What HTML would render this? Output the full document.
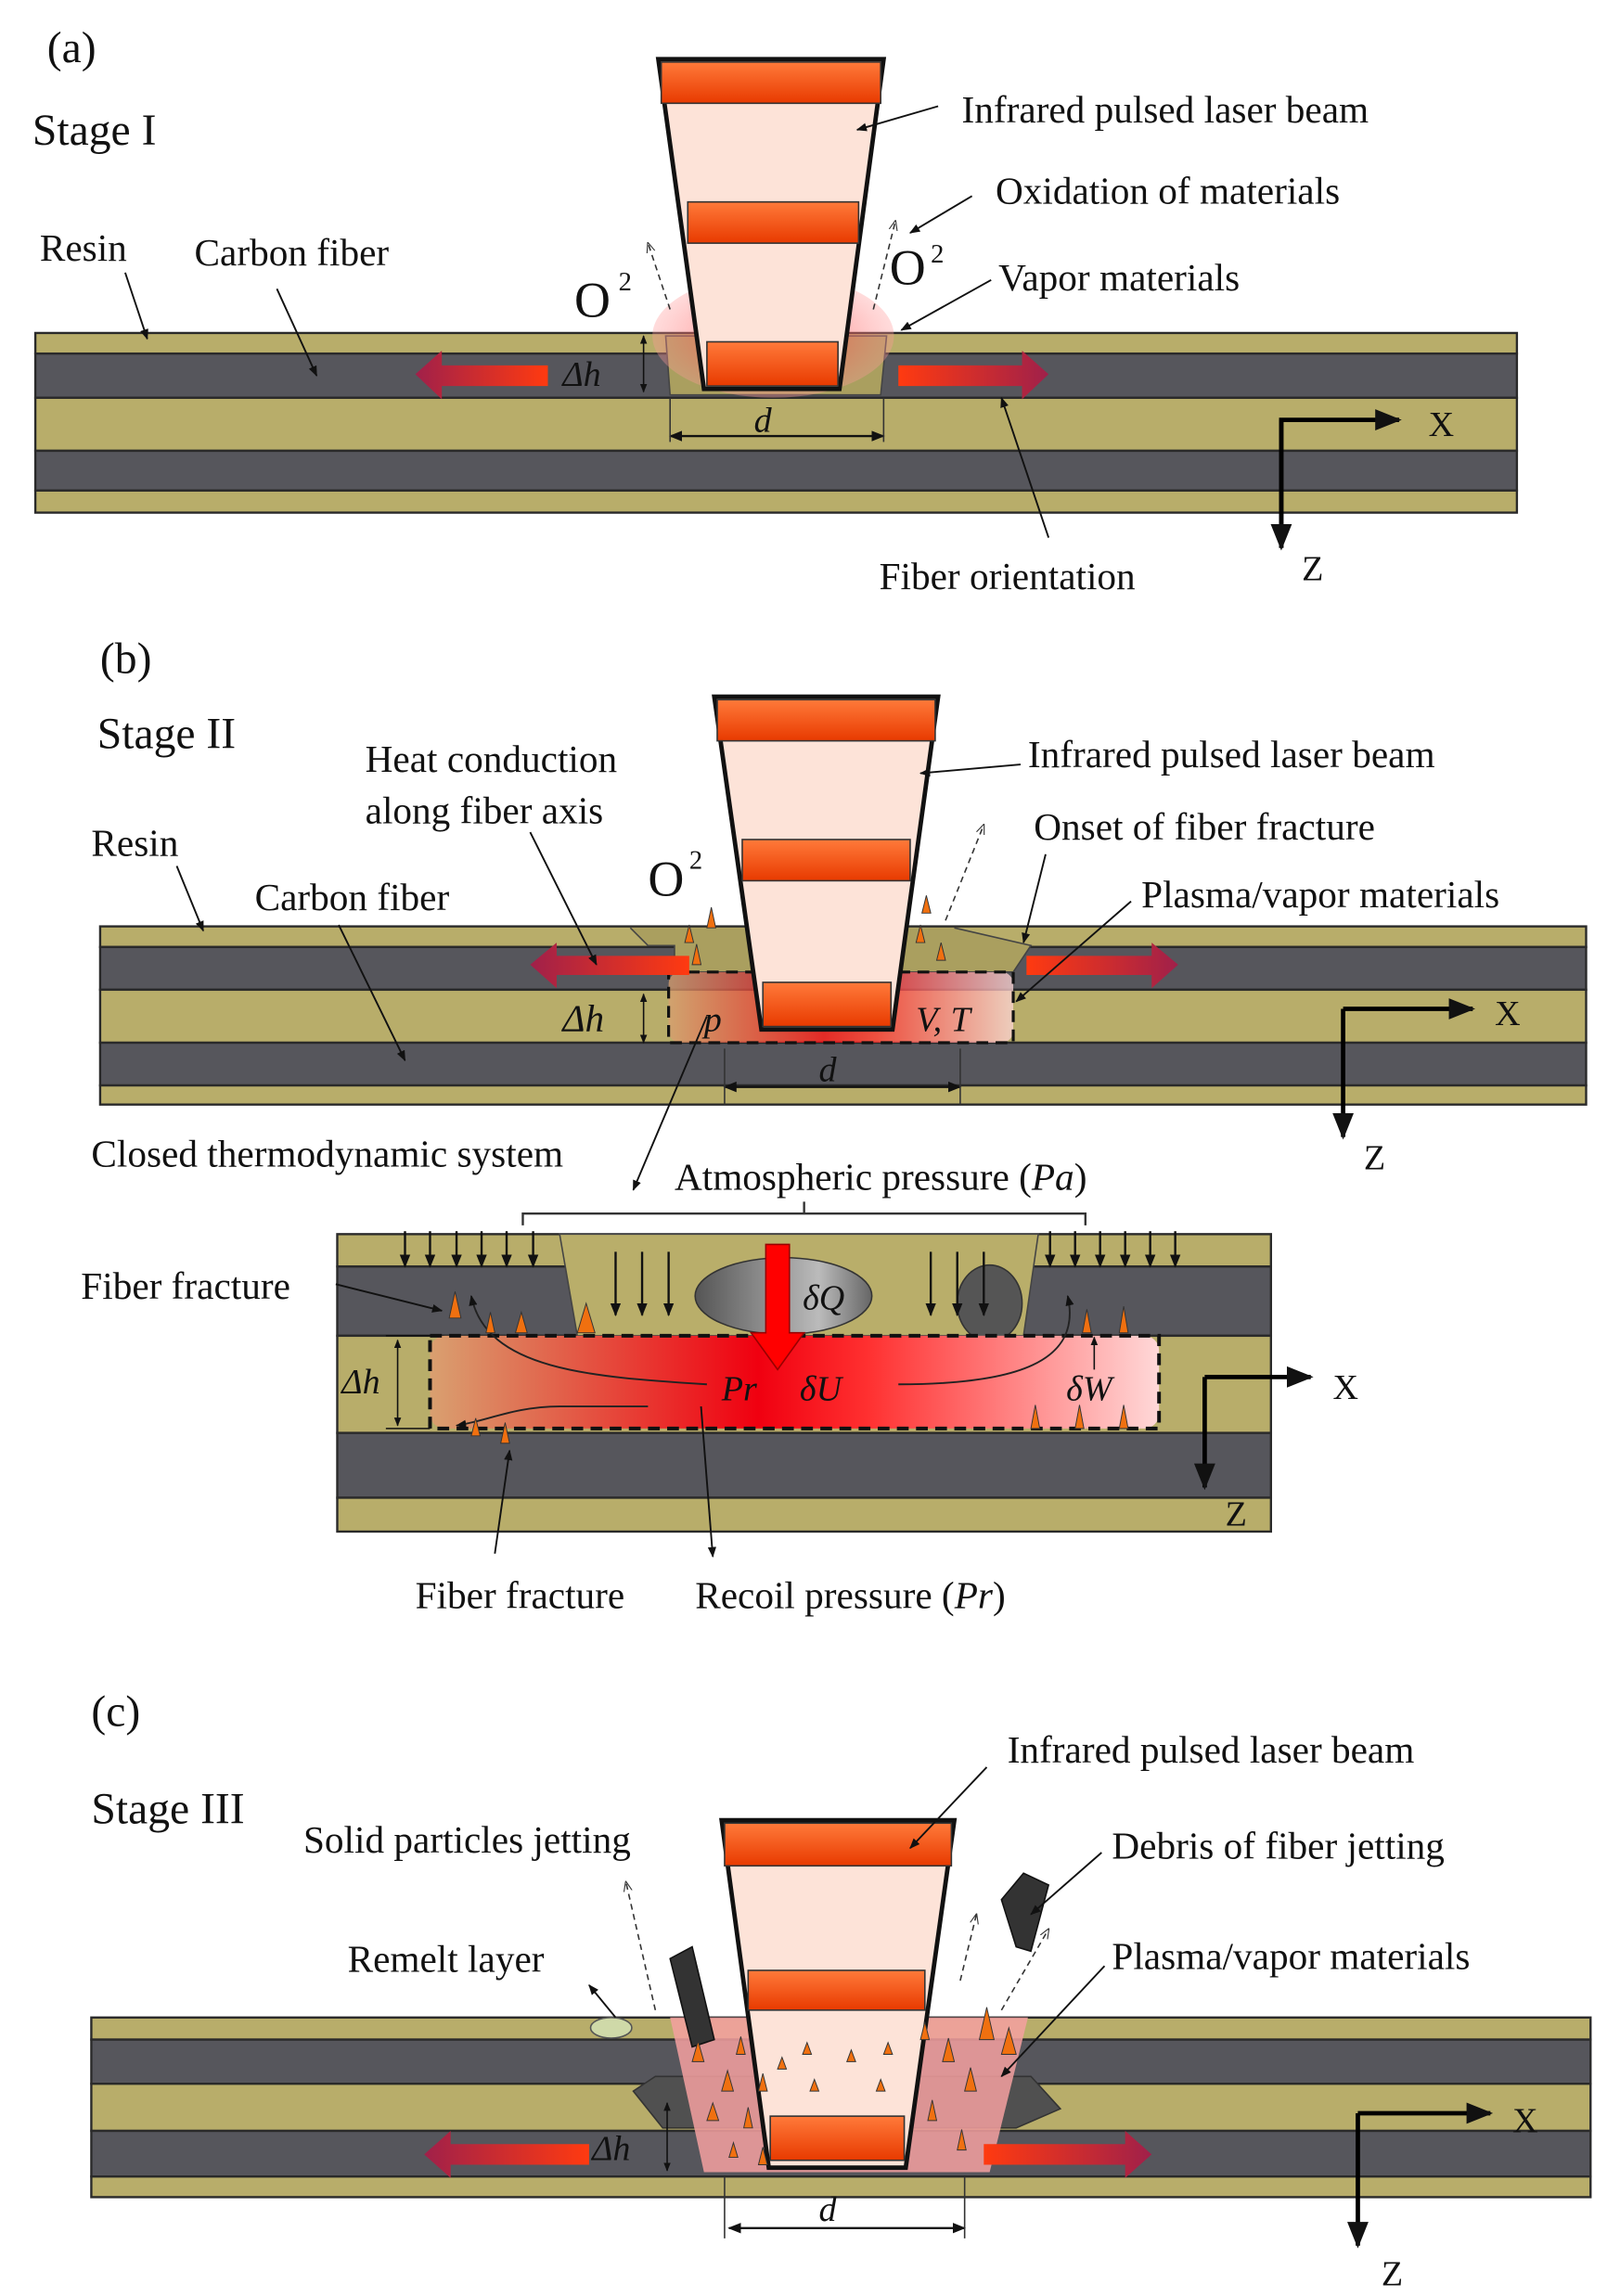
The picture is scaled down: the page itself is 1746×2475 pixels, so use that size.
<!DOCTYPE html>
<html><head><meta charset="utf-8"><style>html,body{margin:0;padding:0;background:#fff}svg{display:block}text{font-family:"Liberation Serif",serif;fill:#111}</style></head>
<body>
<svg width="1746" height="2475" viewBox="0 0 1100 1559" xmlns="http://www.w3.org/2000/svg">
<defs>
<marker id="ah" viewBox="0 0 10 10" refX="9" refY="5" markerWidth="6" markerHeight="6" orient="auto-start-reverse"><path d="M0,1 L10,5 L0,9 z" fill="#111"/></marker>
<marker id="ahd" viewBox="0 0 10 10" refX="9" refY="5" markerWidth="7" markerHeight="7" orient="auto"><path d="M0,1 L10,5 L0,9" fill="none" stroke="#333"/></marker>
<linearGradient id="arrL" x1="0" x2="1"><stop offset="0" stop-color="#a0204a"/><stop offset="1" stop-color="#ff3a10"/></linearGradient>
<linearGradient id="arrR" x1="0" x2="1"><stop offset="0" stop-color="#ff3a10"/><stop offset="1" stop-color="#a0204a"/></linearGradient>
<linearGradient id="band" x1="0" y1="0" x2="0" y2="1"><stop offset="0" stop-color="#ff7a3a"/><stop offset="1" stop-color="#e83a00"/></linearGradient>
<linearGradient id="hot" x1="0" x2="1"><stop offset="0" stop-color="#d9a070"/><stop offset="0.45" stop-color="#f00010"/><stop offset="0.6" stop-color="#ff3030"/><stop offset="1" stop-color="#ffd8d8"/></linearGradient>
<radialGradient id="glow"><stop offset="0" stop-color="#ff2020" stop-opacity=".9"/><stop offset="1" stop-color="#ff9a9a" stop-opacity=".5"/></radialGradient>
<linearGradient id="q" x1="0" x2="1"><stop offset="0" stop-color="#555"/><stop offset=".7" stop-color="#bbb"/><stop offset="1" stop-color="#666"/></linearGradient>
</defs>
<g id="lay" stroke="#333" stroke-width="1.5">
</g>
<!-- Panel a -->
<g stroke="#2a2a2a" stroke-width="1.5">
<rect x="24" y="226" width="1006" height="14" fill="#b8ad6a"/>
<rect x="24" y="240" width="1006" height="30" fill="#56565c"/>
<rect x="24" y="270" width="1006" height="36" fill="#b8ad6a"/>
<rect x="24" y="306" width="1006" height="27" fill="#56565c"/>
<rect x="24" y="333" width="1006" height="15" fill="#b8ad6a"/>
</g>
<path d="M452,228 L455,268 L598,268 L602,228 Z" fill="#aa9f5f" stroke="#444"/>
<ellipse cx="525" cy="228" rx="82" ry="42" fill="url(#glow)" opacity=".7"/>
<polygon points="282,254 300,238 300,248 372,248 372,262 300,262 300,271" fill="url(#arrL)"/>
<polygon points="712,254 694,238 694,248 610,248 610,262 694,262 694,271" fill="url(#arrR)"/>
<polygon points="447,40 600,40 570,264 478,264" fill="#fde3d8" stroke="#111" stroke-width="3"/>
<rect x="449" y="42" width="149" height="28" fill="url(#band)" stroke="#333"/>
<rect x="467" y="137" width="116" height="28" fill="url(#band)" stroke="#333"/>
<rect x="480" y="232" width="89" height="30" fill="url(#band)" stroke="#333"/>
<line x1="437" y1="228" x2="437" y2="266" stroke="#111" marker-start="url(#ah)" marker-end="url(#ah)"/>
<line x1="455" y1="296" x2="600" y2="296" stroke="#111" stroke-width="1.5" marker-start="url(#ah)" marker-end="url(#ah)"/>
<line x1="455" y1="270" x2="455" y2="300" stroke="#333"/><line x1="600" y1="270" x2="600" y2="300" stroke="#333"/>
<text x="512" y="293" font-size="24" font-style="italic">d</text>
<text x="382" y="262" font-size="24" font-style="italic">Δh</text>
<line x1="455" y1="210" x2="440" y2="165" stroke="#333" stroke-dasharray="4 3" marker-end="url(#ahd)"/>
<line x1="593" y1="210" x2="608" y2="150" stroke="#333" stroke-dasharray="4 3" marker-end="url(#ahd)"/>
<text x="390" y="215" font-size="34">O</text><text x="420" y="197" font-size="18">2</text>
<text x="604" y="193" font-size="34">O</text><text x="632" y="178" font-size="18">2</text>
<text x="32" y="42" font-size="30">(a)</text>
<text x="22" y="98" font-size="30">Stage I</text>
<text x="27" y="177" font-size="26">Resin</text>
<text x="132" y="180" font-size="26">Carbon fiber</text>
<text x="653" y="83" font-size="26">Infrared pulsed laser  beam</text>
<text x="676" y="138" font-size="26">Oxidation of materials</text>
<text x="678" y="197" font-size="26">Vapor materials</text>
<text x="597" y="400" font-size="26">Fiber orientation</text>
<g stroke="#111" stroke-width="1.2" fill="none">
<line x1="85" y1="185" x2="100" y2="230" marker-end="url(#ah)"/>
<line x1="188" y1="196" x2="215" y2="255" marker-end="url(#ah)"/>
<line x1="637" y1="72" x2="582" y2="88" marker-end="url(#ah)"/>
<line x1="660" y1="133" x2="618" y2="158" marker-end="url(#ah)"/>
<line x1="673" y1="190" x2="612" y2="224" marker-end="url(#ah)"/>
<line x1="712" y1="365" x2="680" y2="270" marker-end="url(#ah)"/>
</g>
<g stroke="#000" stroke-width="3" fill="none">
<path d="M870,372 L870,285 L950,285" marker-end="url(#ah)"/>
<line x1="870" y1="285" x2="870" y2="372" marker-end="url(#ah)"/>
</g>
<text x="970" y="296" font-size="24">X</text><text x="884" y="394" font-size="24">Z</text>

<!-- Panel b -->
<g stroke="#2a2a2a" stroke-width="1.5">
<rect x="68" y="629" width="1009" height="14" fill="#b8ad6a"/>
<rect x="68" y="643" width="1009" height="29" fill="#56565c"/>
<rect x="68" y="672" width="1009" height="36" fill="#b8ad6a"/>
<rect x="68" y="708" width="1009" height="29" fill="#56565c"/>
<rect x="68" y="737" width="1009" height="13" fill="#b8ad6a"/>
</g>
<path d="M428,630 L440,642 L458,642 L458,660 L688,660 L700,642 L648,630" fill="#aa9f5f" stroke="#444"/>
<rect x="454" y="660" width="234" height="48" rx="8" fill="url(#hot)" opacity=".75"/>
<rect x="454" y="660" width="234" height="48" fill="none" stroke="#111" stroke-width="2" stroke-dasharray="8 5"/>
<polygon points="360,655 378,640 378,649 468,649 468,662 378,662 378,671" fill="url(#arrL)"/>
<polygon points="800,655 782,640 782,649 697,649 697,662 782,662 782,671" fill="url(#arrR)"/>
<polygon points="485,473 637,473 606,699 517,699" fill="#fde3d8" stroke="#111" stroke-width="3"/>
<rect x="487" y="475" width="148" height="28" fill="url(#band)" stroke="#333"/>
<rect x="504" y="570" width="114" height="28" fill="url(#band)" stroke="#333"/>
<rect x="518" y="667" width="87" height="30" fill="url(#band)" stroke="#333"/>
<g fill="#f07010" stroke="#333" stroke-width=".6">
<path d="M465,640 l3,-12 l3,12z"/><path d="M480,630 l3,-14 l3,14z"/><path d="M470,655 l3,-14 l3,14z"/><path d="M622,640 l3,-12 l3,12z"/><path d="M636,652 l3,-12 l3,12z"/><path d="M626,620 l3,-12 l3,12z"/>
</g>
<line x1="437" y1="675" x2="437" y2="708" stroke="#111" marker-start="url(#ah)" marker-end="url(#ah)"/>
<text x="382" y="700" font-size="26" font-style="italic">Δh</text>
<text x="478" y="700" font-size="24" font-style="italic">p</text>
<text x="622" y="700" font-size="24" font-style="italic">V, T</text>
<line x1="492" y1="738" x2="652" y2="738" stroke="#111" stroke-width="1.5" marker-start="url(#ah)" marker-end="url(#ah)"/>
<line x1="492" y1="712" x2="492" y2="750" stroke="#333"/><line x1="652" y1="712" x2="652" y2="750" stroke="#333"/>
<text x="556" y="734" font-size="24" font-style="italic">d</text>
<line x1="642" y1="625" x2="668" y2="560" stroke="#333" stroke-dasharray="4 3" marker-end="url(#ahd)"/>
<text x="440" y="608" font-size="34">O</text><text x="468" y="590" font-size="18">2</text>
<text x="68" y="457" font-size="30">(b)</text>
<text x="66" y="508" font-size="30">Stage II</text>
<text x="248" y="524" font-size="26">Heat  conduction</text>
<text x="248" y="559" font-size="26">along fiber axis</text>
<text x="62" y="581" font-size="26">Resin</text>
<text x="173" y="618" font-size="26">Carbon fiber</text>
<text x="698" y="521" font-size="26">Infrared pulsed laser  beam</text>
<text x="702" y="570" font-size="26">Onset of fiber fracture</text>
<text x="775" y="616" font-size="26">Plasma/vapor materials</text>
<text x="62" y="792" font-size="26">Closed thermodynamic system</text>
<text x="458" y="808" font-size="26">Atmospheric pressure (<tspan font-style="italic">Pa</tspan>)</text>
<g stroke="#111" stroke-width="1.2" fill="none">
<line x1="120" y1="588" x2="138" y2="632" marker-end="url(#ah)"/>
<line x1="230" y1="628" x2="275" y2="720" marker-end="url(#ah)"/>
<line x1="360" y1="565" x2="405" y2="655" marker-end="url(#ah)"/>
<line x1="693" y1="519" x2="625" y2="525" marker-end="url(#ah)"/>
<line x1="710" y1="580" x2="695" y2="640" marker-end="url(#ah)"/>
<line x1="768" y1="612" x2="690" y2="680" marker-end="url(#ah)"/>
<line x1="480" y1="690" x2="430" y2="808" marker-end="url(#ah)"/>
</g>
<g stroke="#000" stroke-width="3" fill="none">
<path d="M912,685 L1000,685" marker-end="url(#ah)"/>
<line x1="912" y1="685" x2="912" y2="772" marker-end="url(#ah)"/>
</g>
<text x="1015" y="696" font-size="24">X</text><text x="926" y="794" font-size="24">Z</text>

<!-- Inset -->
<g stroke="#2a2a2a" stroke-width="1.5">
<rect x="229" y="838" width="634" height="22" fill="#b8ad6a"/>
<rect x="229" y="860" width="634" height="47" fill="#56565c"/>
<rect x="229" y="907" width="634" height="66" fill="#b8ad6a"/>
<rect x="229" y="973" width="634" height="44" fill="#56565c"/>
<rect x="229" y="1017" width="634" height="23" fill="#b8ad6a"/>
</g>
<polygon points="380,838 705,838 695,907 392,907" fill="#b9ae6a" stroke="#444"/>
<ellipse cx="532" cy="880" rx="60" ry="26" fill="url(#q)" stroke="#333"/>
<ellipse cx="672" cy="885" rx="22" ry="26" fill="#555" stroke="#333"/>
<rect x="292" y="907" width="495" height="63" rx="10" fill="url(#hot)"/>
<rect x="292" y="907" width="495" height="63" fill="none" stroke="#111" stroke-width="2.5" stroke-dasharray="8 5"/>
<line x1="262" y1="907" x2="292" y2="907" stroke="#111"/><line x1="262" y1="970" x2="292" y2="970" stroke="#111"/>
<line x1="270" y1="910" x2="270" y2="968" stroke="#111" marker-start="url(#ah)" marker-end="url(#ah)"/>
<text x="232" y="946" font-size="24" font-style="italic">Δh</text>
<g stroke="#111" stroke-width="1.5">
<line x1="275" y1="836" x2="275" y2="860" marker-end="url(#ah)"/><line x1="292" y1="836" x2="292" y2="860" marker-end="url(#ah)"/><line x1="310" y1="836" x2="310" y2="860" marker-end="url(#ah)"/><line x1="327" y1="836" x2="327" y2="860" marker-end="url(#ah)"/><line x1="344" y1="836" x2="344" y2="860" marker-end="url(#ah)"/><line x1="362" y1="836" x2="362" y2="860" marker-end="url(#ah)"/>
<line x1="713" y1="836" x2="713" y2="860" marker-end="url(#ah)"/><line x1="730" y1="836" x2="730" y2="860" marker-end="url(#ah)"/><line x1="747" y1="836" x2="747" y2="860" marker-end="url(#ah)"/><line x1="764" y1="836" x2="764" y2="860" marker-end="url(#ah)"/><line x1="781" y1="836" x2="781" y2="860" marker-end="url(#ah)"/><line x1="798" y1="836" x2="798" y2="860" marker-end="url(#ah)"/>
<line x1="418" y1="850" x2="418" y2="893" marker-end="url(#ah)"/><line x1="436" y1="850" x2="436" y2="893" marker-end="url(#ah)"/><line x1="454" y1="850" x2="454" y2="893" marker-end="url(#ah)"/>
<line x1="632" y1="850" x2="632" y2="893" marker-end="url(#ah)"/><line x1="650" y1="850" x2="650" y2="893" marker-end="url(#ah)"/><line x1="668" y1="850" x2="668" y2="893" marker-end="url(#ah)"/>
</g>
<path d="M355,832 L355,824 L737,824 L737,832 M546,824 L546,816" fill="none" stroke="#333" stroke-width="1.5"/>
<polygon points="520,845 536,845 536,905 546,905 528,930 510,905 520,905" fill="#f00" stroke="#900"/>
<g fill="none" stroke="#222" stroke-width="1.2">
<path d="M480,940 C400,935 330,930 320,880" marker-end="url(#ah)"/>
<path d="M610,940 C690,940 735,925 725,880" marker-end="url(#ah)"/>
<path d="M440,955 L380,955 C350,955 330,965 310,968" marker-end="url(#ah)"/>
</g>
<g fill="#f07010" stroke="#333" stroke-width=".6">
<path d="M305,895 l4,-18 l4,18z"/><path d="M330,905 l3,-14 l3,14z"/><path d="M350,905 l4,-14 l4,14z"/><path d="M392,905 l6,-20 l6,20z"/><path d="M735,905 l3,-16 l3,16z"/><path d="M760,905 l3,-18 l3,18z"/><path d="M700,970 l3,-16 l3,16z"/><path d="M730,970 l3,-16 l3,16z"/><path d="M760,970 l3,-16 l3,16z"/><path d="M320,975 l3,-12 l3,12z"/><path d="M340,980 l3,-14 l3,14z"/>
</g>
<text x="490" y="951" font-size="24" font-style="italic">Pr</text>
<text x="543" y="951" font-size="24" font-style="italic">δU</text>
<text x="724" y="951" font-size="24" font-style="italic">δW</text>
<text x="545" y="889" font-size="24" font-style="italic">δQ</text>
<line x1="743" y1="930" x2="743" y2="908" stroke="#111" marker-end="url(#ah)"/>
<text x="55" y="882" font-size="26">Fiber fracture</text>
<text x="282" y="1092" font-size="26">Fiber fracture</text>
<text x="472" y="1092" font-size="26">Recoil pressure (<tspan font-style="italic">Pr</tspan>)</text>
<g stroke="#111" stroke-width="1.2" fill="none">
<line x1="228" y1="872" x2="300" y2="890" marker-end="url(#ah)"/>
<line x1="336" y1="1055" x2="346" y2="985" marker-end="url(#ah)"/>
<line x1="476" y1="955" x2="484" y2="1057" marker-end="url(#ah)"/>
</g>
<g stroke="#000" stroke-width="3" fill="none">
<path d="M818,935 L890,935" marker-end="url(#ah)"/>
<line x1="818" y1="935" x2="818" y2="1010" marker-end="url(#ah)"/>
</g>
<text x="905" y="950" font-size="24">X</text><text x="832" y="1036" font-size="24">Z</text>

<!-- Panel c -->
<g stroke="#2a2a2a" stroke-width="1.5">
<rect x="62" y="1370" width="1018" height="15" fill="#b8ad6a"/>
<rect x="62" y="1385" width="1018" height="30" fill="#56565c"/>
<rect x="62" y="1415" width="1018" height="32" fill="#b8ad6a"/>
<rect x="62" y="1447" width="1018" height="31" fill="#56565c"/>
<rect x="62" y="1478" width="1018" height="14" fill="#b8ad6a"/>
</g>
<path d="M430,1420 L445,1410 L700,1410 L720,1432 L690,1445 L450,1445 Z" fill="#505050" stroke="#333"/>
<path d="M455,1370 L478,1475 L672,1475 L698,1370 Z" fill="#f4a0a0" opacity=".85"/>
<ellipse cx="415" cy="1377" rx="14" ry="7" fill="#cfd9a8" stroke="#555"/>
<polygon points="288,1463 306,1447 306,1456 400,1456 400,1470 306,1470 306,1479" fill="url(#arrL)"/>
<polygon points="782,1463 764,1447 764,1456 668,1456 668,1470 764,1470 764,1479" fill="url(#arrR)"/>
<polygon points="490,1236 648,1236 615,1472 522,1472" fill="#fde3d8" stroke="#111" stroke-width="3"/>
<rect x="492" y="1238" width="154" height="29" fill="url(#band)" stroke="#333"/>
<rect x="508" y="1338" width="120" height="27" fill="url(#band)" stroke="#333"/>
<rect x="523" y="1437" width="91" height="30" fill="url(#band)" stroke="#333"/>
<polygon points="455,1330 470,1322 485,1385 470,1390" fill="#333" stroke="#111"/>
<polygon points="680,1290 695,1272 712,1280 700,1325 690,1322" fill="#333" stroke="#111"/>
<g fill="#f07010" stroke="#333" stroke-width=".6">
<path d="M470,1400 l4,-14 l4,14z"/><path d="M490,1420 l4,-14 l4,14z"/><path d="M505,1445 l3,-14 l3,14z"/><path d="M480,1440 l4,-12 l4,12z"/><path d="M500,1395 l3,-12 l3,12z"/><path d="M515,1420 l3,-12 l3,12z"/><path d="M495,1465 l3,-10 l3,10z"/><path d="M515,1470 l3,-12 l3,12z"/>
<path d="M640,1400 l4,-16 l4,16z"/><path d="M655,1420 l4,-16 l4,16z"/><path d="M630,1440 l3,-14 l3,14z"/><path d="M665,1385 l5,-22 l5,22z"/><path d="M680,1395 l5,-18 l5,18z"/><path d="M650,1460 l3,-14 l3,14z"/><path d="M625,1385 l3,-12 l3,12z"/>
<path d="M545,1395 l3,-8 l3,8z"/><path d="M575,1400 l3,-8 l3,8z"/><path d="M595,1420 l3,-8 l3,8z"/><path d="M550,1420 l3,-8 l3,8z"/><path d="M528,1405 l3,-8 l3,8z"/><path d="M600,1395 l3,-8 l3,8z"/>
</g>
<g stroke="#333" stroke-dasharray="4 3" fill="none">
<line x1="445" y1="1365" x2="425" y2="1278" marker-end="url(#ahd)"/>
<line x1="652" y1="1345" x2="663" y2="1300" marker-end="url(#ahd)"/>
<line x1="680" y1="1365" x2="712" y2="1310" marker-end="url(#ahd)"/>
</g>
<line x1="453" y1="1428" x2="453" y2="1474" stroke="#111" marker-start="url(#ah)" marker-end="url(#ah)"/>
<text x="402" y="1467" font-size="24" font-style="italic">Δh</text>
<line x1="495" y1="1513" x2="655" y2="1513" stroke="#111" stroke-width="1.5" marker-start="url(#ah)" marker-end="url(#ah)"/>
<line x1="492" y1="1478" x2="492" y2="1520" stroke="#333"/><line x1="655" y1="1478" x2="655" y2="1520" stroke="#333"/>
<text x="556" y="1508" font-size="24" font-style="italic">d</text>
<text x="62" y="1172" font-size="30">(c)</text>
<text x="62" y="1238" font-size="30">Stage III</text>
<text x="206" y="1258" font-size="26">Solid particles jetting</text>
<text x="236" y="1339" font-size="26">Remelt layer</text>
<text x="684" y="1197" font-size="26">Infrared pulsed laser beam</text>
<text x="755" y="1262" font-size="26">Debris of fiber jetting</text>
<text x="755" y="1337" font-size="26">Plasma/vapor materials</text>
<g stroke="#111" stroke-width="1.2" fill="none">
<line x1="670" y1="1200" x2="618" y2="1255" marker-end="url(#ah)"/>
<line x1="748" y1="1258" x2="700" y2="1300" marker-end="url(#ah)"/>
<line x1="750" y1="1335" x2="680" y2="1410" marker-end="url(#ah)"/>
<line x1="418" y1="1370" x2="400" y2="1348" marker-end="url(#ah)"/>
</g>
<g stroke="#000" stroke-width="3" fill="none">
<path d="M922,1435 L1012,1435" marker-end="url(#ah)"/>
<line x1="922" y1="1435" x2="922" y2="1525" marker-end="url(#ah)"/>
</g>
<text x="1027" y="1448" font-size="24">X</text><text x="938" y="1552" font-size="24">Z</text>
</svg>
</body></html>
